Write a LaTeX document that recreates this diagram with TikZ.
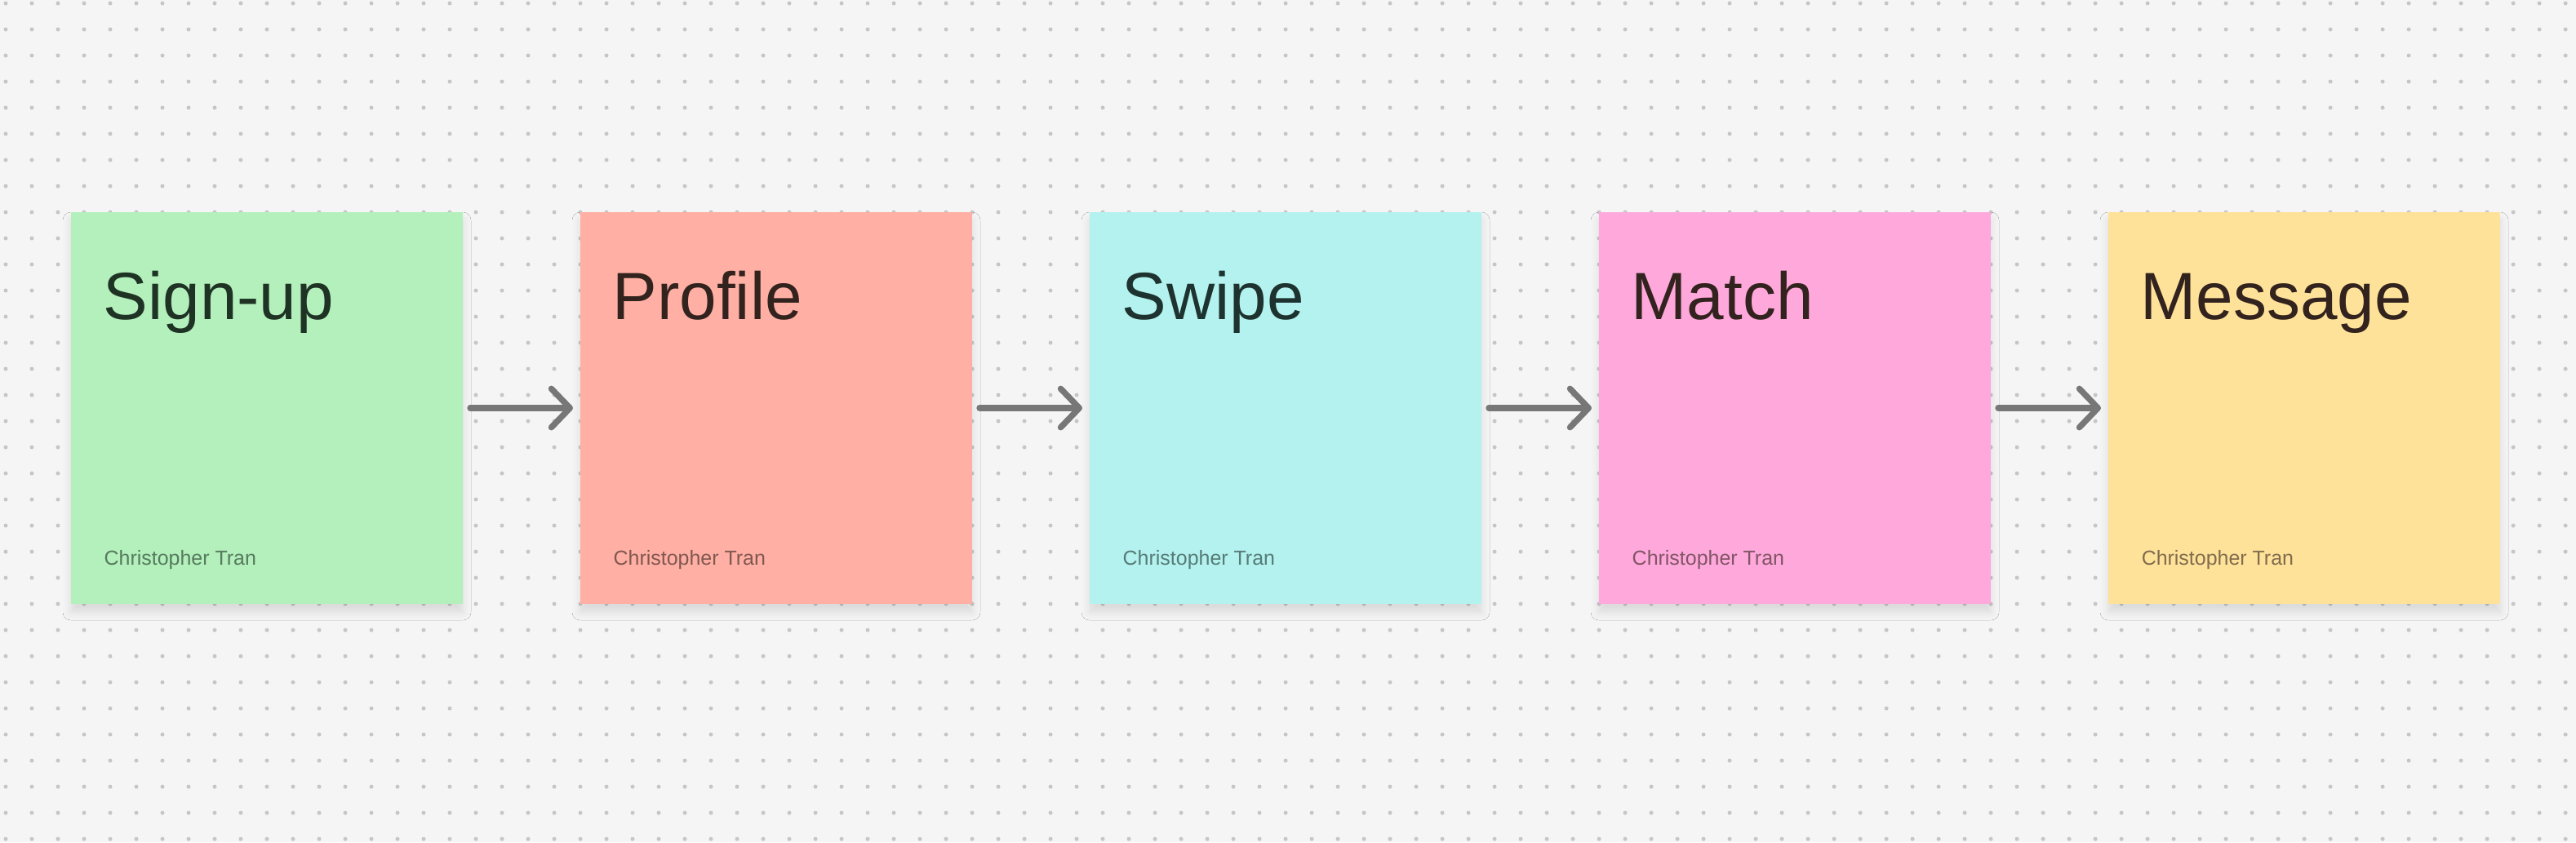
\documentclass[tikz,border=0pt]{standalone}
\usepackage{fontspec}
\setmainfont{Liberation Sans}
\usetikzlibrary{positioning,arrows.meta,shadows.blur}

\definecolor{boardbg}{HTML}{F5F5F5}
\definecolor{boarddot}{HTML}{C6C6C6}
\definecolor{arrowgray}{HTML}{777777}
\definecolor{greenfill}{HTML}{B3F0BC}
\definecolor{greenink}{HTML}{1F3324}
\definecolor{salmonfill}{HTML}{FFAFA3}
\definecolor{salmonink}{HTML}{33231E}
\definecolor{cyanfill}{HTML}{B3F2EE}
\definecolor{cyanink}{HTML}{1E332F}
\definecolor{pinkfill}{HTML}{FFA8DB}
\definecolor{pinkink}{HTML}{33231E}
\definecolor{yellowfill}{HTML}{FFE299}
\definecolor{yellowink}{HTML}{33231E}

\begin{document}
\begin{tikzpicture}[
    note/.style={minimum width=4.8cm, minimum height=4.8cm, inner sep=0pt, outer sep=0pt,
                 blur shadow={shadow xshift=0pt, shadow yshift=-0.1cm,
                              shadow opacity=11, shadow blur radius=0.1cm}},
    title/.style={anchor=base west, inner sep=0pt, font=\fontsize{23.3}{28}\selectfont},
    author/.style={anchor=base west, inner sep=0pt, font=\fontsize{7.1}{9}\selectfont},
    flow/.style={draw=arrowgray, line width=2.1pt, line cap=round,
                 shorten <=0.09cm, shorten >=0.09cm,
                 -{Straight Barb[length=6.5pt, width=13.5pt, line cap=round, line join=round]}},
]
% dotted board
\fill[boardbg] (0,0) rectangle (31.56,10.32);
\useasboundingbox (0,0) rectangle (31.56,10.32);
\foreach \i in {0,...,98}
    \foreach \j in {0,...,32}
        \fill[boarddot] (0.07+0.32*\i, 10.28-0.32*\j) circle (0.025);

% sticky notes
\node[note, fill=greenfill] (signup) at (3.27,5.32) {};
\node[note, fill=salmonfill, right=1.44cm of signup] (profile) {};
\node[note, fill=cyanfill, right=1.44cm of profile] (swipe) {};
\node[note, fill=pinkfill, right=1.44cm of swipe] (match) {};
\node[note, fill=yellowfill, right=1.44cm of match] (message) {};

% titles
\node[title, text=greenink] (signuptitle) at ([shift={(0.39,-1.31)}]signup.north west) {Sign-up};
\node[title, text=salmonink] (profiletitle) at ([shift={(0.39,-1.31)}]profile.north west) {Profile};
\node[title, text=cyanink] (swipetitle) at ([shift={(0.39,-1.31)}]swipe.north west) {Swipe};
\node[title, text=pinkink] (matchtitle) at ([shift={(0.39,-1.31)}]match.north west) {Match};
\node[title, text=yellowink] (messagetitle) at ([shift={(0.39,-1.31)}]message.north west) {Message};

% authors
\node[author, text=greenink!62!greenfill] (signupauthor) at ([shift={(0.40,-4.32)}]signup.north west) {Christopher Tran};
\node[author, text=salmonink!62!salmonfill] (profileauthor) at ([shift={(0.40,-4.32)}]profile.north west) {Christopher Tran};
\node[author, text=cyanink!62!cyanfill] (swipeauthor) at ([shift={(0.40,-4.32)}]swipe.north west) {Christopher Tran};
\node[author, text=pinkink!62!pinkfill] (matchauthor) at ([shift={(0.40,-4.32)}]match.north west) {Christopher Tran};
\node[author, text=yellowink!62!yellowfill] (messageauthor) at ([shift={(0.40,-4.32)}]message.north west) {Christopher Tran};

% flow
\draw[flow] (signup.east) -- (profile.west);
\draw[flow] (profile.east) -- (swipe.west);
\draw[flow] (swipe.east) -- (match.west);
\draw[flow] (match.east) -- (message.west);
\end{tikzpicture}
\end{document}
